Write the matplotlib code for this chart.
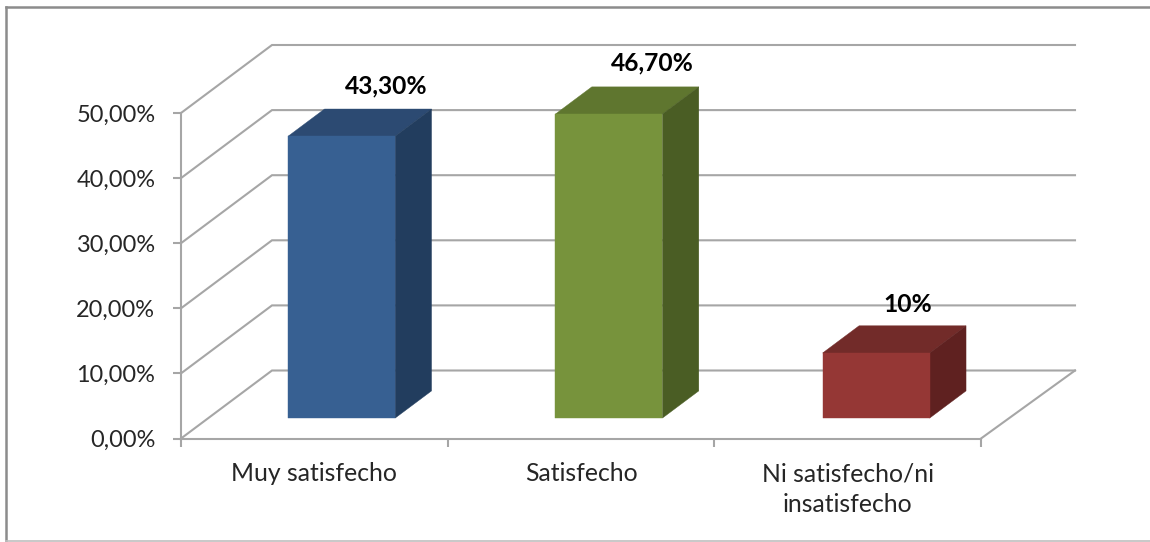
import matplotlib
matplotlib.use("Agg")
import matplotlib.pyplot as plt
from matplotlib.lines import Line2D
from matplotlib.patches import Polygon

plt.rcParams["font.family"] = ["Lato", "DejaVu Sans"]

categories = ["Muy satisfecho", "Satisfecho", "Ni satisfecho/ni\ninsatisfecho"]
values = [43.3, 46.7, 10.0]
value_labels = ["43,30%", "46,70%", "10%"]
y_ticks = [0, 10, 20, 30, 40, 50]
y_tick_labels = ["0,00%", "10,00%", "20,00%", "30,00%", "40,00%", "50,00%"]

# colours per bar: front, top, side
front_colors = ["#376092", "#77933C", "#953735"]
top_colors = ["#2C4A72", "#5F762F", "#722B29"]
side_colors = ["#223D5E", "#4A5D24", "#5F2120"]
# where each value label sits, in pixels from the bar's front top centre
label_dx = [45, 43, 32]
label_dy = [50, 51, 49]

W, H = 1150, 542
GRID = "#A6A6A6"
TEXT = "#262626"

fig = plt.figure(figsize=(W / 100, H / 100), dpi=100, facecolor="white")
# front plane of the fake 3D box, in pixels
left, right, bottom, top = 181, 981, 438.5, 113
ax = fig.add_axes([left / W, 1 - bottom / H, (right - left) / W, (bottom - top) / H])
ax.set_xlim(0, 3)
ax.set_ylim(0, 50)
ax.patch.set_visible(False)

# depth of the box in data units (91 px across, 68 px up)
px_x = 3 / (right - left)
px_y = 50 / (bottom - top)
DX = 91 * px_x
DY = 68 * px_y
back_right = 3 + DX + 3 * px_x

# back wall grid lines and the diagonals on the left wall
for t in y_ticks:
    ax.plot([0, DX, back_right], [t, t + DY, t + DY], color=GRID, lw=1.5,
            clip_on=False, zorder=1, solid_joinstyle="miter")
# right edge of the floor
ax.plot([3, back_right], [0, DY], color=GRID, lw=1.5, clip_on=False, zorder=1)

# bars sit part way into the depth
bar_w = 107 * px_x
bar_pitch = 267.25 * px_x
d0 = 0.30
d1 = 0.70
for i, v in enumerate(values):
    x0 = 0.5 + i * bar_pitch - bar_w / 2 + d0 * DX
    x1 = x0 + bar_w
    y0 = d0 * DY
    y1 = y0 + v
    ddx = (d1 - d0) * DX
    ddy = (d1 - d0) * DY
    ax.add_patch(Polygon([(x0, y1), (x1, y1), (x1 + ddx, y1 + ddy), (x0 + ddx, y1 + ddy)],
                         fc=top_colors[i], ec=top_colors[i], lw=0.3, clip_on=False, zorder=3))
    ax.add_patch(Polygon([(x1, y0), (x1 + ddx, y0 + ddy), (x1 + ddx, y1 + ddy), (x1, y1)],
                         fc=side_colors[i], ec=side_colors[i], lw=0.3, clip_on=False, zorder=3))
    ax.add_patch(Polygon([(x0, y0), (x1, y0), (x1, y1), (x0, y1)],
                         fc=front_colors[i], ec=front_colors[i], lw=0.3, clip_on=False, zorder=4))
    ax.annotate(value_labels[i], xy=((x0 + x1) / 2, y1),
                xytext=(label_dx[i] * 0.72, label_dy[i] * 0.72), textcoords="offset points",
                ha="center", va="center", fontsize=17.7, fontweight="bold",
                color="black", zorder=5, annotation_clip=False)

for s in ["top", "right"]:
    ax.spines[s].set_visible(False)
for s in ["left", "bottom"]:
    ax.spines[s].set_color(GRID)
    ax.spines[s].set_linewidth(1.5)
    ax.spines[s].set_zorder(2)

ax.set_yticks(y_ticks)
ax.set_yticklabels(y_tick_labels, fontsize=16.9, color=TEXT)
ax.tick_params(axis="y", length=5.5, width=1.5, color=GRID, pad=13)
ax.set_xticks([0, 1, 2, 3])
ax.set_xticklabels([])
ax.tick_params(axis="x", which="major", length=5.5, width=1.5, color=GRID)
ax.set_xticks([0.5, 1.5, 2.5], minor=True)
ax.set_xticklabels(categories, minor=True, fontsize=17.8, color=TEXT, linespacing=1.44)
ax.tick_params(axis="x", which="minor", length=0, pad=17)

# picture frame, no right edge in the original
frame = [((6, 541), (6, 7), "#8C8C8C", 1.8), ((6, 7), (1150, 7), "#8C8C8C", 1.8),
         ((6, 541), (1150, 541), "#BFBFBF", 1.2)]
for (xa, ya), (xb, yb), c, lw in frame:
    fig.add_artist(Line2D([xa / W, xb / W], [1 - ya / H, 1 - yb / H], color=c, lw=lw))

fig.savefig("out.png", dpi=100)
